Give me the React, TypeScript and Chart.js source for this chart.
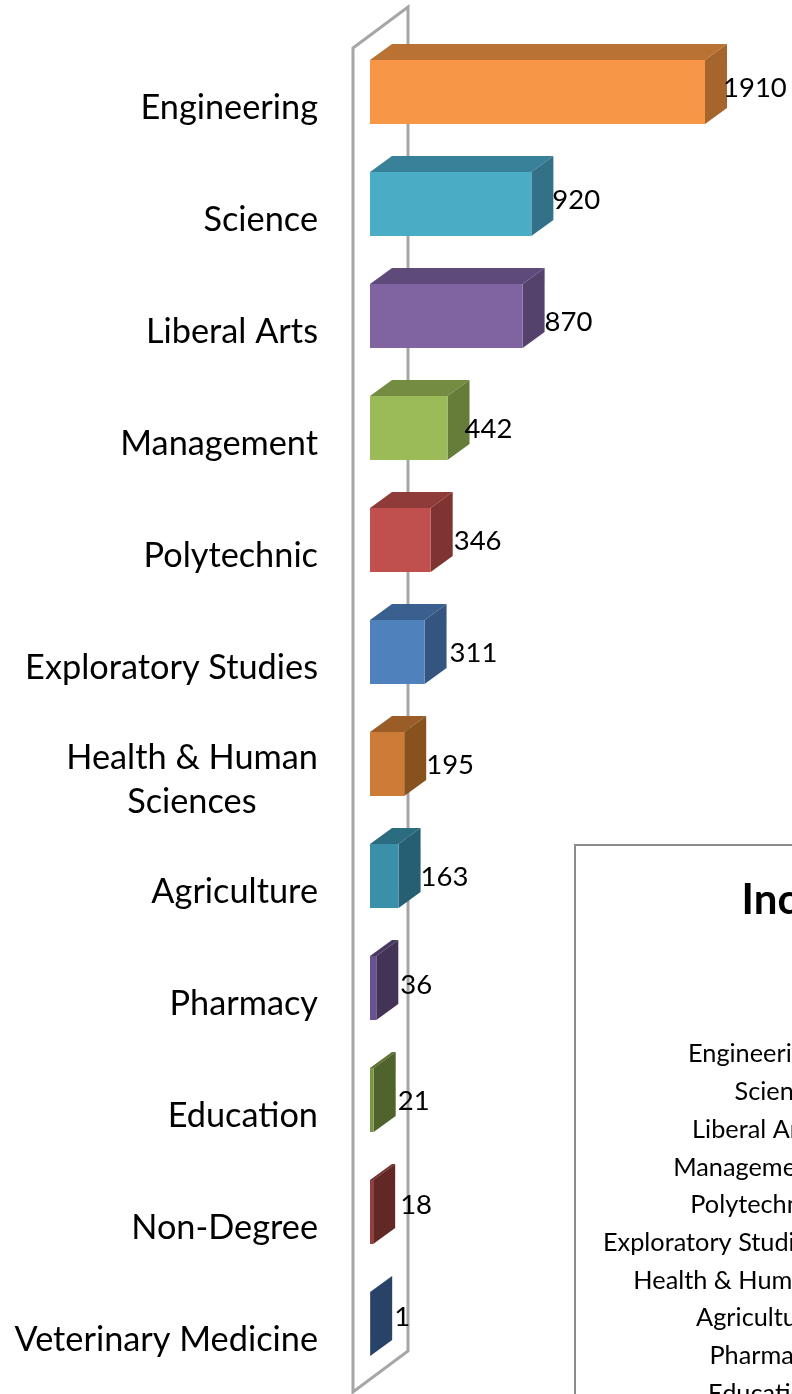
import React, { useEffect, useRef } from "react";
import { Chart, registerables } from "chart.js";

Chart.register(...registerables);

const categories: (string | string[])[] = [
  "Engineering", "Science", "Liberal Arts", "Management", "Polytechnic", "Exploratory Studies",
  ["Health & Human", "Sciences"], "Agriculture", "Pharmacy", "Education", "Non-Degree", "Veterinary Medicine",
];
const insetCategories = [
  "Engineering", "Science", "Liberal Arts", "Management", "Polytechnic", "Exploratory Studies",
  "Health & Human", "Agriculture", "Pharmacy", "Education", "Non-Degree", "Veterinary Medicine",
];
const students = [1910, 920, 870, 442, 346, 311, 195, 163, 36, 21, 18, 1];

const frontColors = ["#F79646", "#4BACC6", "#8064A2", "#9BBB59", "#C0504D", "#4F81BD", "#CC7C36", "#3A90A8", "#6A5290", "#7A9645", "#953E3C", "#3E6598"];
const topColors = ["#B97233", "#388199", "#5F4B7B", "#738C42", "#8F3B39", "#3A608F", "#9A5D27", "#2B6C80", "#4A3A62", "#5A6F32", "#6F2D2B", "#2D4B72"];
const sideColors = ["#A5652C", "#327188", "#54426D", "#667D3A", "#7F3432", "#34557F", "#88521F", "#265F71", "#423357", "#50632C", "#622826", "#284367"];
const labelNudgeX = [-4, -1, 0, -5, 1, 3, 0, 0, 2, 2, 5, 2];
const labelNudgeY = [-4, -4, 6, 1, 1, 1, 1, 1, -3, 1, -7, -7];

const DEPTH_X = 22;
const DEPTH_Y = 16;

const poly = (ctx: CanvasRenderingContext2D, pts: number[][], fill: string) => {
  ctx.beginPath();
  pts.forEach(([x, y], i) => (i ? ctx.lineTo(x, y) : ctx.moveTo(x, y)));
  ctx.closePath();
  ctx.fillStyle = fill;
  ctx.fill();
};

const threeD = {
  id: "threeD",
  beforeDatasetsDraw(chart: any) {
    const { ctx, chartArea: a } = chart;
    const lx = a.left - 17, rx = a.left + 38;
    const top = a.top + 12, bot = a.bottom + 12, rise = 41;
    ctx.save();
    ctx.strokeStyle = "#A6A6A6";
    ctx.lineWidth = 3;
    ctx.lineJoin = "miter";
    ctx.beginPath();
    ctx.moveTo(lx, top);
    ctx.lineTo(rx, top - rise);
    ctx.lineTo(rx, bot - rise);
    ctx.lineTo(lx, bot);
    ctx.closePath();
    ctx.stroke();
    chart.getDatasetMeta(0).data.forEach((bar: any, i: number) => {
      const t = bar.y - bar.height / 2, b = bar.y + bar.height / 2, l = bar.base, r = bar.x;
      poly(ctx, [[l, t], [r, t], [r + DEPTH_X, t - DEPTH_Y], [l + DEPTH_X, t - DEPTH_Y]], topColors[i]);
      poly(ctx, [[r, t], [r + DEPTH_X, t - DEPTH_Y], [r + DEPTH_X, b - DEPTH_Y], [r, b]], sideColors[i]);
    });
    ctx.restore();
  },
  afterDatasetsDraw(chart: any) {
    const { ctx } = chart;
    ctx.save();
    ctx.font = "27.5px Lato";
    ctx.fillStyle = "#000";
    ctx.textAlign = "left";
    ctx.textBaseline = "middle";
    chart.getDatasetMeta(0).data.forEach((bar: any, i: number) => {
      ctx.fillText(String(students[i]), bar.x + DEPTH_X + labelNudgeX[i], bar.y + labelNudgeY[i]);
    });
    ctx.restore();
  },
};

export default function App() {
  const mainRef = useRef<HTMLCanvasElement>(null);
  const insetRef = useRef<HTMLCanvasElement>(null);

  useEffect(() => {
    const main = new Chart(mainRef.current!, {
      type: "bar",
      data: {
        labels: categories as any,
        datasets: [{
          data: students,
          backgroundColor: frontColors,
          borderWidth: 0,
          categoryPercentage: 64 / 112,
          barPercentage: 1,
        }],
      },
      plugins: [threeD],
      options: {
        indexAxis: "y",
        animation: false,
        responsive: false,
        layout: { padding: { top: 36, bottom: 14, right: 71.2 } },
        plugins: { legend: { display: false }, title: { display: false }, tooltip: { enabled: false } },
        scales: {
          x: { display: false, min: 0, max: 2000, grid: { display: false } },
          y: {
            afterFit: (s: any) => { s.width = 370; s.paddingTop = 0; s.paddingBottom = 0; },
            grid: { display: false, drawTicks: false },
            border: { display: false },
            ticks: {
              padding: 52,
              labelOffset: 16,
              color: "#000",
              autoSkip: false,
              font: { family: "Lato", size: 34.3, lineHeight: 1.28 },
              callback(this: any, _v: any, i: number) {
                const c = categories[i];
                return Array.isArray(c) ? [c[0], c[1] + "\u00A0".repeat(7)] : c;
              },
            },
          },
        },
      },
    } as any);

    const inset = new Chart(insetRef.current!, {
      type: "bar",
      data: {
        labels: insetCategories,
        datasets: [{ data: students, backgroundColor: frontColors, categoryPercentage: 0.6, barPercentage: 1 }],
      },
      options: {
        indexAxis: "y",
        animation: false,
        responsive: false,
        layout: { padding: { bottom: 58 } },
        plugins: {
          legend: { display: false },
          tooltip: { enabled: false },
          title: {
            display: true,
            text: "Incoming Students",
            color: "#000",
            font: { family: "Lato", size: 42, weight: "bold", lineHeight: 1.2 },
            padding: { top: 29, bottom: 110 },
          },
        },
        scales: {
          x: { display: false, min: 0, max: 2000 },
          y: {
            afterFit: (s: any) => { s.width = 255; s.paddingTop = 0; s.paddingBottom = 0; },
            grid: { display: false, drawTicks: false },
            border: { display: false },
            ticks: { padding: 12, color: "#000", autoSkip: false, font: { family: "Lato", size: 25.3 } },
          },
        },
      },
    } as any);

    return () => { main.destroy(); inset.destroy(); };
  }, []);

  return (
    <div style={{ position: "absolute", left: 0, top: 0, width: 792, height: 1394, overflow: "hidden", background: "#fff" }}>
      <canvas ref={mainRef} width={792} height={1394} style={{ position: "absolute", left: 0, top: 0 }} />
      <div style={{
        position: "absolute", left: 574, top: 844, width: 218, height: 550, overflow: "hidden",
        boxSizing: "border-box", borderLeft: "2px solid #8C8C8C", borderTop: "2px solid #8C8C8C", background: "#fff",
      }}>
        <canvas ref={insetRef} width={678} height={700} style={{ position: "absolute", left: 0, top: 0 }} />
      </div>
    </div>
  );
}
